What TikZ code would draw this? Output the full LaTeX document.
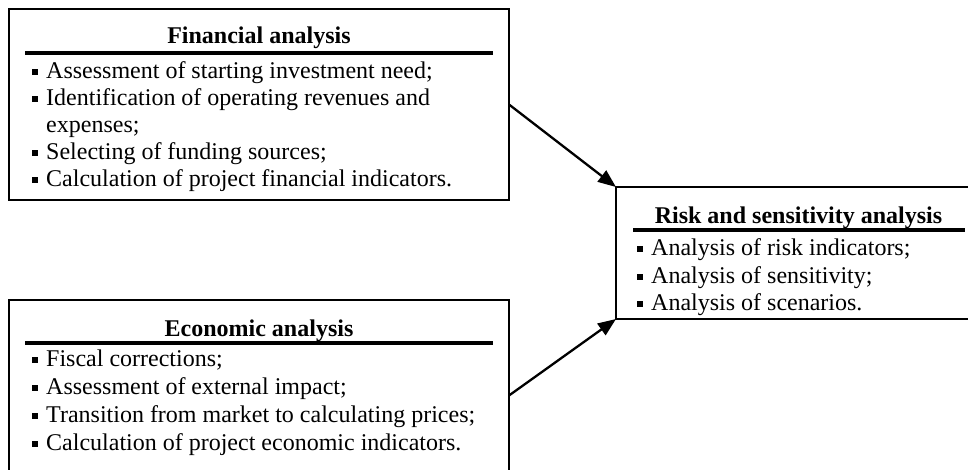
\documentclass[tikz,border=0pt]{standalone}
\usepackage{fontspec}
\setmainfont{Liberation Serif}
\usetikzlibrary{arrows.meta}
\newcommand{\mybul}{\makebox[14pt][l]{\rule[3pt]{6pt}{6pt}}}
\begin{document}
\begin{tikzpicture}[x=1pt,y=-1pt,
  box/.style={draw,line width=1.8pt,inner sep=0pt,outer sep=0pt},
  ttl/.style={font=\fontsize{24}{27}\selectfont\bfseries,anchor=base,inner sep=0pt},
  itm/.style={font=\fontsize{24}{27}\selectfont,anchor=base west,inner sep=0pt},
  hrule/.style={line width=3.5pt},
  arr/.style={line width=2.3pt,-{Triangle[length=18pt,width=14pt]}}]
\useasboundingbox (0,0) rectangle (968,469);
\clip (0,0) rectangle (968,469);
% boxes
\node[box,minimum width=500pt,minimum height=191pt] (fin) at (259,104.5) {};
\node[box,minimum width=500pt,minimum height=191pt] (eco) at (259,395.5) {};
\node[box,minimum width=365pt,minimum height=132pt] (risk) at (798.5,253) {};
% financial
\node[ttl] (fint) at (259,43) {Financial analysis};
\draw[hrule] (25,53) -- (493,53);
\node[itm] (f1) at (32,78) {\mybul Assessment of starting investment need;};
\node[itm] (f2) at (32,105) {\mybul Identification of operating revenues and};
\node[itm] (f3) at (32,132) {\hspace*{14pt}expenses;};
\node[itm] (f4) at (32,159) {\mybul Selecting of funding sources;};
\node[itm] (f5) at (32,186) {\mybul Calculation of project financial indicators.};
% economic
\node[ttl] (ecot) at (259,336) {Economic analysis};
\draw[hrule] (25,343) -- (493,343);
\node[itm] (e1) at (32,366) {\mybul Fiscal corrections;};
\node[itm] (e2) at (32,394) {\mybul Assessment of external impact;};
\node[itm] (e3) at (32,422) {\mybul Transition from market to calculating prices;};
\node[itm] (e4) at (32,450) {\mybul Calculation of project economic indicators.};
% risk
\node[ttl] (riskt) at (798.5,223) {Risk and sensitivity analysis};
\draw[hrule] (633,230) -- (965,230);
\node[itm] (r1) at (637,255) {\mybul Analysis of risk indicators;};
\node[itm] (r2) at (637,283) {\mybul Analysis of sensitivity;};
\node[itm] (r3) at (637,310) {\mybul Analysis of scenarios.};
% arrows
\draw[arr] (fin.east) -- (risk.north west);
\draw[arr] (eco.east) -- (risk.south west);
\end{tikzpicture}
\end{document}
